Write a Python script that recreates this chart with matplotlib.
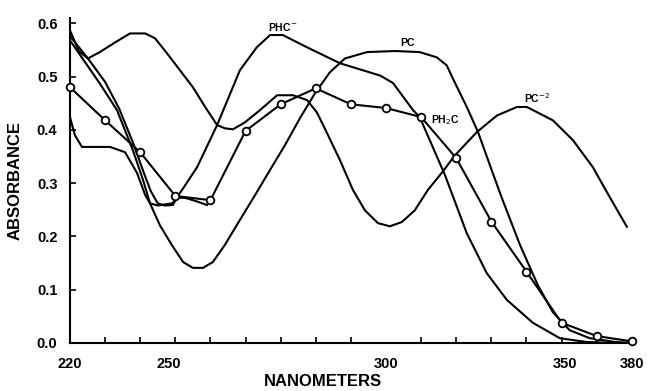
import numpy as np
import matplotlib.pyplot as plt

plt.rcParams['font.family'] = ['Liberation Sans', 'DejaVu Sans']

# wavelength grid for the measured points (nm)
wl_pts = [220, 230, 240, 250, 260, 270, 280, 290, 300, 310,
          320, 330, 340, 350, 360, 370, 380]
abs_pts = [0.48, 0.418, 0.358, 0.276, 0.268, 0.398, 0.448, 0.478, 0.448,
           0.441, 0.424, 0.347, 0.228, 0.134, 0.038, 0.013, 0.003]

# PC^-2 curve
wl_pc2 = [220, 222.5, 225.1, 228.5, 232.8, 237.1, 241.4, 244.2, 247.6, 251.3,
          255, 258.4, 261.9, 264.1, 266.4, 269.8, 274.1, 279, 283.5, 287.5,
          290.3, 293.2, 296.9, 300.6, 304, 307.7, 311.1, 314.5, 318.2, 321.9,
          326.2, 329.6, 335.9, 341.6, 347.3, 350.1, 357.5, 363.2, 368.9,
          373.7, 378.6]
abs_pc2 = [0.587, 0.548, 0.534, 0.546, 0.564, 0.581, 0.581, 0.572, 0.544,
           0.512, 0.48, 0.444, 0.409, 0.403, 0.401, 0.414, 0.437, 0.465,
           0.465, 0.456, 0.433, 0.394, 0.343, 0.287, 0.249, 0.225, 0.219,
           0.227, 0.249, 0.287, 0.322, 0.352, 0.396, 0.427, 0.443, 0.443,
           0.418, 0.381, 0.33, 0.274, 0.218]

# PC curve
wl_pc = [220, 224.3, 228.5, 233.4, 237.9, 240.8, 242.8, 245.6, 249, 252.2,
         255, 257.9, 260.7, 264.1, 268.4, 273.2, 276.9, 281.2, 285.5, 289.8,
         294, 298.3, 304.6, 312.5, 319.6, 324.5, 327.3, 329, 333, 336.2,
         340.4, 343, 348.1, 353.2, 357.5, 362.3, 368, 375.2, 380]
abs_pc = [0.568, 0.527, 0.487, 0.437, 0.362, 0.306, 0.262, 0.221, 0.184,
          0.152, 0.141, 0.141, 0.152, 0.184, 0.231, 0.283, 0.324, 0.371,
          0.422, 0.469, 0.508, 0.534, 0.546, 0.548, 0.546, 0.536, 0.521,
          0.497, 0.443, 0.396, 0.319, 0.272, 0.185, 0.109, 0.058, 0.024,
          0.009, 0.002, 0.0]

# PHC^- curve
wl_phc = [220, 225, 230, 234, 238, 241, 243, 245, 247, 249.3, 250.5, 252.2,
          256.2, 261.9, 268.4, 273.2, 277, 280.6, 287.5, 296.9, 308.3, 312,
          317.7, 319.6, 323.3, 326.8, 333, 338.7, 344.4, 351.8, 359.5, 367,
          375]
abs_phc = [0.576, 0.535, 0.49, 0.44, 0.375, 0.32, 0.285, 0.262, 0.258,
           0.259, 0.274, 0.29, 0.33, 0.409, 0.512, 0.555, 0.578, 0.578,
           0.555, 0.525, 0.502, 0.488, 0.437, 0.424, 0.368, 0.315, 0.206,
           0.131, 0.081, 0.038, 0.009, 0.002, 0.0]

# short low curve on the left
wl_low = [220, 221.4, 223.4, 231.4, 235.7, 239.1, 241.4, 242.8, 245, 249,
          251, 253, 256, 259]
abs_low = [0.424, 0.39, 0.368, 0.368, 0.358, 0.319, 0.278, 0.262, 0.258,
           0.262, 0.273, 0.272, 0.266, 0.259]

fig, ax = plt.subplots(figsize=(6.48, 3.91), dpi=100)
plt.subplots_adjust(left=0.108, right=0.975, bottom=0.1228, top=0.954)

lw = 1.5
ax.plot(wl_pc2, abs_pc2, color='black', lw=lw)
ax.plot(wl_pc, abs_pc, color='black', lw=lw)
ax.plot(wl_phc, abs_phc, color='black', lw=lw)
ax.plot(wl_low, abs_low, color='black', lw=lw)
ax.plot(wl_pts, abs_pts, color='black', lw=lw, marker='o', ms=5.5,
        mfc='white', mec='black', mew=1.3, clip_on=False, zorder=5)

# curve labels
ax.text(280.6, 0.594, r'PHC$^{-}$', fontsize=7.5, fontweight='bold', ha='center', va='center')
ax.text(316, 0.563, 'PC', fontsize=7.5, fontweight='bold', ha='center', va='center')
ax.text(353, 0.459, r'PC$^{-2}$', fontsize=7.5, fontweight='bold', ha='center', va='center')
ax.text(327, 0.418, r'PH$_2$C', fontsize=7.5, fontweight='bold', ha='center', va='center')

ax.set_xlim(220, 380)
ax.set_ylim(0, 0.61)

for s in ['top', 'right']:
    ax.spines[s].set_visible(False)
for s in ['left', 'bottom']:
    ax.spines[s].set_linewidth(1.5)

# tick marks every 10 nm, labels where the original prints them
ax.set_xticks(np.arange(220, 381, 10), minor=True)
ax.set_xticks([220, 248, 310, 361, 380])
ax.set_xticklabels(['220', '250', '300', '350', '380'])
ax.tick_params(axis='x', which='major', length=0, pad=10, labelsize=10.5)
ax.tick_params(axis='x', which='minor', direction='in', length=4, width=1.2)

ax.set_yticks([0.0, 0.1, 0.2, 0.3, 0.4, 0.5, 0.6])
ax.set_yticklabels(['0.0', '0.1', '0.2', '0.3', '0.4', '0.5', '0.6'])
ax.tick_params(axis='y', direction='in', length=4, width=1.2, pad=9, labelsize=10.5)
for lab in ax.get_xticklabels() + ax.get_yticklabels():
    lab.set_fontweight('bold')

ax.set_xlabel('NANOMETERS', fontsize=12, fontweight='bold')
ax.xaxis.set_label_coords(0.45, -0.095)
ax.set_ylabel('ABSORBANCE', fontsize=12, fontweight='bold')
ax.yaxis.set_label_coords(-0.085, 0.5)

plt.savefig('out.png', dpi=100)
